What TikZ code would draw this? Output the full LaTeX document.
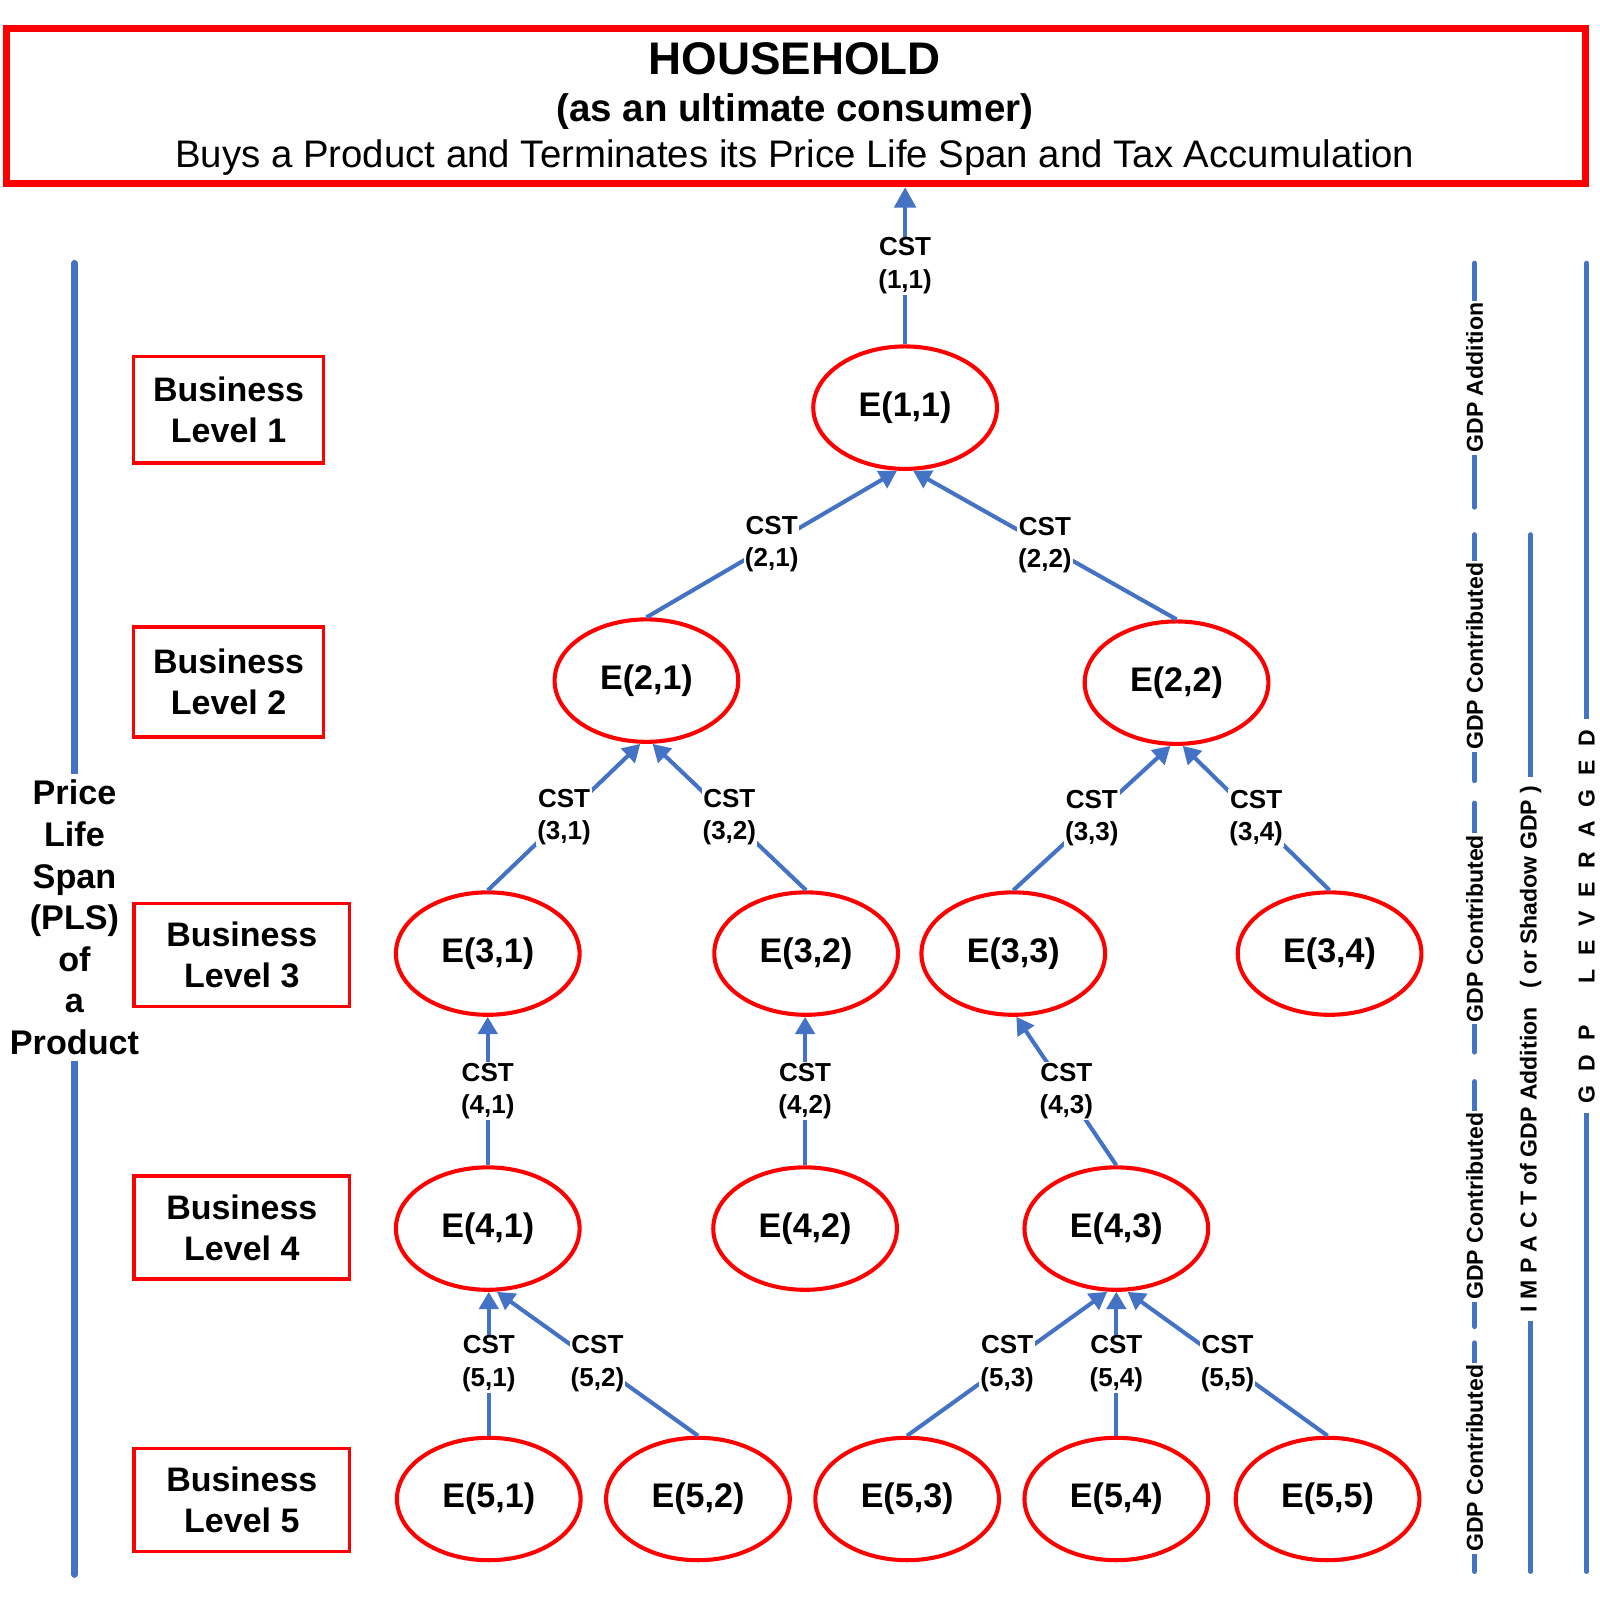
\documentclass[tikz,border=0pt]{standalone}
\usepackage{fontspec}
\setmainfont{Liberation Sans}
\usetikzlibrary{shapes.geometric,arrows.meta}
\definecolor{flowblue}{RGB}{68,114,196}
\begin{document}
\begin{tikzpicture}[x=1pt,y=-1pt,
  ent/.style={ellipse,draw=red,line width=4pt,minimum width=180pt,minimum height=120pt,inner sep=0pt,font=\fontsize{33.4}{40}\selectfont\bfseries},
  lvlbox/.style={rectangle,draw=red,line width=3.5pt,inner sep=0pt,align=center,font=\fontsize{33.3}{40}\selectfont\bfseries},
  flow/.style={draw=flowblue,line width=4pt,-{Triangle[length=17pt,width=19pt]}},
  cst/.style={fill=white,inner sep=1pt,align=center,font=\fontsize{25.5}{32}\selectfont\bfseries},
  bar/.style={draw=flowblue,line width=5pt,line cap=round},
  vlab/.style={fill=white,inner xsep=2pt,inner ysep=0pt,rotate=90,font=\fontsize{22.6}{27}\selectfont\bfseries},
]
\useasboundingbox (0,0) rectangle (1568,1568);

% left price life span bar (drawn first so the boxes stay on top)
\draw[bar,line width=6.5pt] (73,258) -- (73,1543);
\node[fill=white,inner xsep=0pt,inner ysep=6pt,align=center,font=\fontsize{33.5}{40.7}\selectfont\bfseries] (pls) at (73,899) {Price\\Life\\Span\\(PLS)\\of\\a\\Product};

% household
\node[draw=red,line width=7pt,minimum width=1548pt,minimum height=152pt,inner sep=0pt] (hh) at (780,104) {};
\node[align=center,font=\fontsize{44.8}{45.5}\selectfont\bfseries] (hhtext) at (779,107) {HOUSEHOLD\\{\fontsize{37.7}{45.5}\selectfont (as an ultimate consumer)}\\{\fontsize{37.6}{45.5}\selectfont\mdseries Buys a Product and Terminates its Price Life Span and Tax Accumulation}};

% business levels
\node[lvlbox,minimum width=186pt,minimum height=104pt] (l1) at (224,401.5) {Business\\Level 1};
\node[lvlbox,minimum width=186pt,minimum height=108pt] (l2) at (224,668.5) {Business\\Level 2};
\node[lvlbox,minimum width=211pt,minimum height=101pt] (l3) at (237,936) {Business\\Level 3};
\node[lvlbox,minimum width=211pt,minimum height=101pt] (l4) at (237,1203) {Business\\Level 4};
\node[lvlbox,minimum width=211pt,minimum height=101pt] (l5) at (237,1470) {Business\\Level 5};

% entities
\node[ent] (e11) at (887,399.5) {E(1,1)};
\node[ent] (e21) at (633.5,667) {E(2,1)};
\node[ent] (e22) at (1153,669) {E(2,2)};
\node[ent] (e31) at (478,934.5) {E(3,1)};
\node[ent] (e32) at (790,934.5) {E(3,2)};
\node[ent] (e33) at (993,934.5) {E(3,3)};
\node[ent] (e34) at (1303,934.5) {E(3,4)};
\node[ent] (e41) at (478,1204) {E(4,1)};
\node[ent] (e42) at (789,1204) {E(4,2)};
\node[ent] (e43) at (1094,1204) {E(4,3)};
\node[ent] (e51) at (479,1469) {E(5,1)};
\node[ent] (e52) at (684,1469) {E(5,2)};
\node[ent] (e53) at (889,1469) {E(5,3)};
\node[ent] (e54) at (1094,1469) {E(5,4)};
\node[ent] (e55) at (1301,1469) {E(5,5)};

% connectors
\draw[flow,-{Triangle[length=20pt,width=21pt]}] (e11.north) -- node[cst]{CST\\(1,1)} (e11.north |- hh.south);
\draw[flow] (e21.north) -- node[cst]{CST\\(2,1)} ([xshift=-8pt]e11.south);
\draw[flow] (e22.north) -- node[cst]{CST\\(2,2)} ([xshift=8pt]e11.south);
\draw[flow] (e31.north) -- node[cst]{CST\\(3,1)} ([xshift=-6pt]e21.south);
\draw[flow] (e32.north) -- node[cst]{CST\\(3,2)} ([xshift=6pt]e21.south);
\draw[flow] (e33.north) -- node[cst]{CST\\(3,3)} ([xshift=-6pt]e22.south);
\draw[flow] (e34.north) -- node[cst]{CST\\(3,4)} ([xshift=6pt]e22.south);
\draw[flow] (e41.north) -- node[cst]{CST\\(4,1)} (e41.north |- e31.south);
\draw[flow] (e42.north) -- node[cst]{CST\\(4,2)} (e42.north |- e32.south);
\draw[flow] (e43.north) -- node[cst]{CST\\(4,3)} ([xshift=3pt]e33.south);
\draw[flow] (e51.north) -- node[cst]{CST\\(5,1)} (e51.north |- e41.south);
\draw[flow] (e52.north) -- node[cst]{CST\\(5,2)} ([xshift=9pt]e41.south);
\draw[flow] (e53.north) -- node[cst]{CST\\(5,3)} ([xshift=-9pt]e43.south);
\draw[flow] (e54.north) -- node[cst]{CST\\(5,4)} (e54.north |- e43.south);
\draw[flow] (e55.north) -- node[cst]{CST\\(5,5)} ([xshift=11pt]e43.south);

% right GDP bars
\draw[bar] (1445,258) -- (1445,497);
\node[vlab] (ga) at (1445,370) {GDP Addition};
\draw[bar] (1445,524) -- (1445,765);
\node[vlab] (gc1) at (1445,643) {GDP Contributed};
\draw[bar] (1445,787) -- (1445,1031);
\node[vlab] (gc2) at (1445,910) {GDP Contributed};
\draw[bar] (1445,1060) -- (1445,1300);
\node[vlab] (gc3) at (1445,1182) {GDP Contributed};
\draw[bar] (1445,1316) -- (1445,1540);
\node[vlab] (gc4) at (1445,1429) {GDP Contributed};

\draw[bar] (1500,524) -- (1500,1540);
\node[vlab,inner xsep=9pt] (impact) at (1500,1028) {I M P A C T of GDP Addition\ \ \ ( or Shadow GDP )};

\draw[bar] (1555,258) -- (1555,1540);
\node[vlab,inner xsep=10pt] (lev) at (1555,898) {G\hspace{0.6em}D\hspace{0.6em}P\hspace{1.8em}L\hspace{0.6em}E\hspace{0.6em}V\hspace{0.6em}E\hspace{0.6em}R\hspace{0.6em}A\hspace{0.6em}G\hspace{0.6em}E\hspace{0.6em}D};
\end{tikzpicture}
\end{document}
